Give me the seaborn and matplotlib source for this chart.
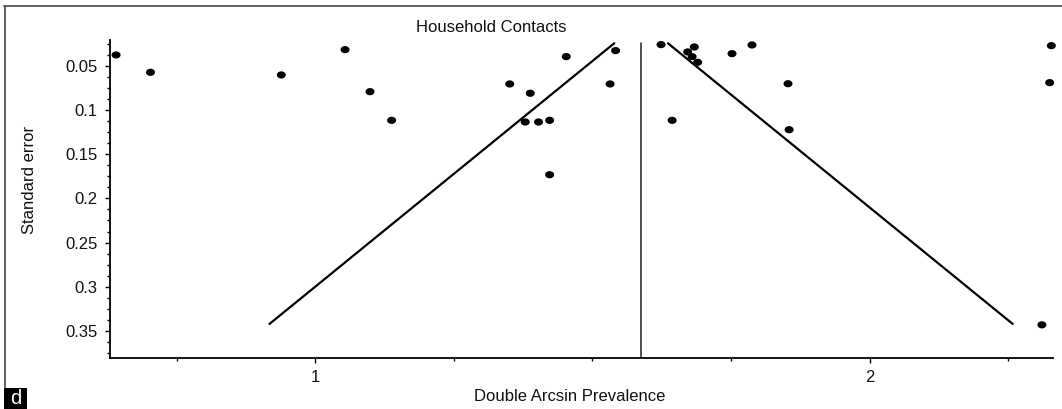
import numpy as np
import matplotlib
matplotlib.use("Agg")
import matplotlib.pyplot as plt
from matplotlib.ticker import MultipleLocator, FixedLocator
from matplotlib.lines import Line2D
from matplotlib.patches import Rectangle
import seaborn as sns

# Study estimates: double arcsine transformed prevalence and standard error
prevalence = [0.641, 0.703, 0.939, 1.054, 1.099, 1.138, 1.351, 1.388, 1.379,
              1.403, 1.423, 1.423, 1.453, 1.532, 1.542, 1.624, 1.644, 1.672,
              1.680, 1.684, 1.690, 1.752, 1.788, 1.853, 1.855, 2.328, 2.325,
              2.311]
std_error = [0.0379, 0.0575, 0.0605, 0.0319, 0.0794, 0.1118, 0.0707, 0.0812,
             0.1137, 0.1137, 0.1118, 0.1733, 0.0398, 0.0707, 0.0330, 0.0262,
             0.1118, 0.0345, 0.0398, 0.0289, 0.0462, 0.0364, 0.0266, 0.0704,
             0.1224, 0.0274, 0.0692, 0.3430]

# Pooled estimate and the standard error span of the pseudo-confidence funnel
pooled_estimate = 1.588
funnel_se = [0.0247, 0.342]
z_value = 1.96

y_ticks = [0.05, 0.1, 0.15, 0.2, 0.25, 0.3, 0.35]
y_tick_labels = ["0.05", "0.1", "0.15", "0.2", "0.25", "0.3", "0.35"]
x_ticks = [1, 2]
x_tick_labels = ["1", "2"]

sns.set_theme(style="ticks")
plt.rcParams["font.family"] = ["Liberation Sans", "DejaVu Sans"]

W, H = 1062, 409
fig = plt.figure(figsize=(W / 100, H / 100), dpi=100)
fig.patch.set_facecolor("white")
ax = fig.add_axes([110 / W, 1 - 358 / H, (1053 - 110) / W, (358 - 40) / H])
ax.set_facecolor("white")

# Funnel limits and pooled estimate line
se_arr = np.array(funnel_se)
ax.plot(pooled_estimate - z_value * se_arr, se_arr, color="black", lw=1.6,
        solid_capstyle="round")
ax.plot(pooled_estimate + z_value * se_arr, se_arr, color="black", lw=1.6,
        solid_capstyle="round")
ax.plot([pooled_estimate, pooled_estimate], [funnel_se[0], 0.3805],
        color="#222222", lw=1.1)

# Slightly flattened round dots for each study
theta = np.linspace(0, 2 * np.pi, 41)
dot = np.column_stack([np.cos(theta), 0.8 * np.sin(theta)])
sns.scatterplot(x=prevalence, y=std_error, ax=ax, marker=dot, s=42,
                color="black", edgecolor="none", linewidth=0, clip_on=False,
                zorder=5)

ax.set_xlim(0.630, 2.331)
ax.set_ylim(0.3805, 0.021)

ax.yaxis.set_major_locator(FixedLocator(y_ticks))
ax.set_yticklabels(y_tick_labels)
ax.yaxis.set_minor_locator(MultipleLocator(0.0125))
ax.xaxis.set_major_locator(FixedLocator(x_ticks))
ax.set_xticklabels(x_tick_labels)
ax.xaxis.set_minor_locator(MultipleLocator(0.25))

for side in ("top", "right"):
    ax.spines[side].set_visible(False)
for side in ("left", "bottom"):
    ax.spines[side].set_linewidth(1.3)
    ax.spines[side].set_color("black")

ax.tick_params(axis="both", which="major", length=3.6, width=1.0,
               color="black", labelsize=12, labelcolor="#111111")
ax.tick_params(axis="both", which="minor", length=2.2, width=1.0,
               color="black")
ax.tick_params(axis="y", which="major", pad=5.5)
ax.tick_params(axis="x", which="major", pad=5.0)

ax.set_title("Household Contacts", fontsize=12, x=(491.7 - 110) / 943,
             pad=5.8, color="#111111")
ax.set_xlabel("Double Arcsin Prevalence", fontsize=12, color="#111111")
ax.xaxis.set_label_coords((570 - 110) / 943, (358 - 389) / 318)
ax.set_ylabel("Standard error", fontsize=12, color="#111111")
ax.yaxis.set_label_coords((36.5 - 110) / 943, (358 - 180) / 318)

# Panel frame and letter tag
fig.add_artist(Line2D([4 / W, 1], [1 - 6 / H, 1 - 6 / H],
                      transform=fig.transFigure, color="#444444", lw=1.2))
fig.add_artist(Line2D([4.5 / W, 4.5 / W], [1 - 6 / H, 1 - 388 / H],
                      transform=fig.transFigure, color="#444444", lw=1.2))
fig.add_artist(Rectangle((4 / W, 0), 23 / W, 21.5 / H,
                         transform=fig.transFigure, facecolor="black",
                         edgecolor="none"))
fig.text(15.5 / W, 1 - 398.5 / H, "d", color="white", fontsize=14.5,
         ha="center", va="center")

fig.savefig("out.png", dpi=100, facecolor="white")
